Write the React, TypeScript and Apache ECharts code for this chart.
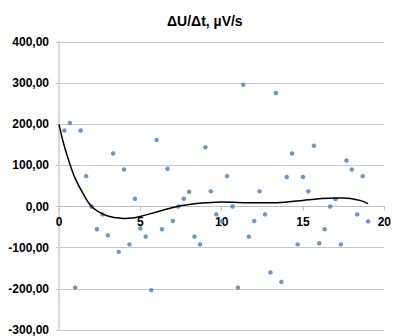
import React, { useEffect, useRef } from 'react';
import * as echarts from 'echarts';

const titleText = 'ΔU/Δt, µV/s';

const pointX = [
  0.33, 0.67, 1, 1.33, 1.67, 2, 2.33, 2.67, 3, 3.33, 3.67, 4, 4.33, 4.67, 5, 5.33, 5.67, 6, 6.33,
  6.67, 7, 7.33, 7.67, 8, 8.33, 8.67, 9, 9.33, 9.67, 10, 10.33, 10.67, 11, 11.33, 11.67, 12, 12.33,
  12.67, 13, 13.33, 13.67, 14, 14.33, 14.67, 15, 15.33, 15.67, 16, 16.33, 16.67, 17, 17.33, 17.67,
  18, 18.33, 18.67, 19,
];
const pointY = [
  185, 203, -197, 185, 74, 0, -55, -19, -70, 129, -110, 90, -92, 19, -53, -73, -203, 162, -55,
  92, -35, 0, 19, 36, -73, -92, 144, 37, -19, -36, 74, 0, -197, 296, -73, -35, 37,
  -19, -160, 276, -183, 72, 129, -92, 72, 37, 148, -89, -55, 0, 18, -92, 112,
  90, -19, 74, -36,
];

const trendX = [0, 0.25, 0.5, 0.75, 1, 1.5, 2, 2.5, 3, 3.5, 4, 4.5, 5, 6, 7, 8, 9, 10, 11, 12, 13, 14, 15, 16, 17, 17.5, 18, 18.5, 19];
const trendY = [200, 158, 124, 94, 68, 30, 0, -14, -23, -27, -29, -28, -24, -13, -2, 5, 9, 11, 10, 9, 9, 11, 15, 19, 21, 21, 19, 15, 7];

const font = '"Liberation Sans", Arial, sans-serif';

const Y_MIN = -300;
const Y_MAX = 400;
const GRID_TOP = 42;
const GRID_BOTTOM = 6;
const HEIGHT = 336;

export default function App() {
  const ref = useRef<HTMLDivElement>(null);
  useEffect(() => {
    if (!ref.current) return;
    const chart = echarts.init(ref.current, null, { renderer: 'svg' });
    const gridH = HEIGHT - GRID_TOP - GRID_BOTTOM;
    // distance from grid bottom up to the zero line
    const zeroOffset = (gridH * (0 - Y_MIN)) / (Y_MAX - Y_MIN);
    chart.setOption({
      animation: false,
      backgroundColor: '#ffffff',
      title: {
        text: titleText,
        left: 167,
        top: 14,
        padding: 0,
        textStyle: { fontFamily: font, fontSize: 14, fontWeight: 'bold', color: '#000' },
      },
      grid: { left: 59, right: 3, top: GRID_TOP, bottom: GRID_BOTTOM, containLabel: false },
      xAxis: {
        type: 'value',
        min: 0,
        max: 20,
        interval: 5,
        position: 'bottom',
        offset: -zeroOffset,
        axisLine: { show: true, onZero: false, lineStyle: { color: '#bfbfbf', width: 1 } },
        axisTick: { show: true, length: 4, lineStyle: { color: '#bfbfbf' } },
        splitLine: { show: false },
        axisLabel: {
          margin: 9,
          fontFamily: font,
          fontSize: 12,
          fontWeight: 'bold',
          color: '#000',
        },
      },
      yAxis: {
        type: 'value',
        min: Y_MIN,
        max: Y_MAX,
        interval: 100,
        axisLine: { show: true, lineStyle: { color: '#d9d9d9', width: 2 } },
        axisTick: { show: true, length: 3, lineStyle: { color: '#c8c8c8' } },
        splitLine: { show: true, lineStyle: { color: '#c8c8c8', width: 1 } },
        axisLabel: {
          margin: 10,
          fontFamily: font,
          fontSize: 12,
          fontWeight: 'bold',
          color: '#000',
          formatter: (v: number) => v.toFixed(2).replace('.', ','),
        },
      },
      series: [
        {
          type: 'scatter',
          data: pointX.map((x, i) => [x, pointY[i]]),
          symbol: 'circle',
          symbolSize: 4.5,
          itemStyle: { color: '#4a7ebb' },
          z: 2,
        },
        {
          type: 'line',
          data: trendX.map((x, i) => [x, trendY[i]]),
          smooth: 0.4,
          showSymbol: false,
          symbol: 'none',
          lineStyle: { color: '#000', width: 1.5 },
          z: 3,
        },
      ],
    });
    return () => chart.dispose();
  }, []);
  return (
    <div
      ref={ref}
      style={{ position: 'absolute', left: 0, top: 0, width: 394, height: 336 }}
    />
  );
}
